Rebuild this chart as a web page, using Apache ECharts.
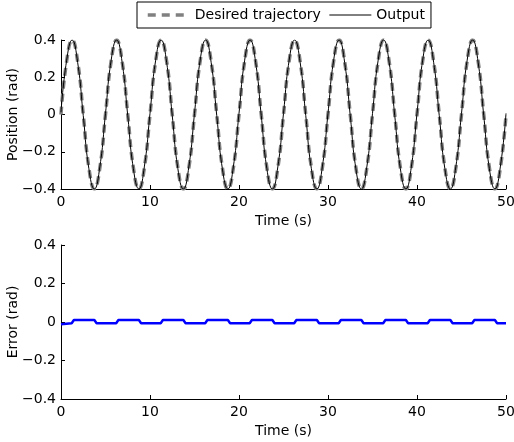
<!DOCTYPE html>
<html><head><meta charset="utf-8">
<script src="https://cdn.jsdelivr.net/npm/echarts@6/dist/echarts.min.js"></script>
<style>html,body{margin:0;padding:0;background:#fff}#c{width:514px;height:442px}</style>
</head><body><div id="c"></div>
<script>
// sample spacing of the position traces (s)
const posStep = 0.625;
// Desired trajectory (rad), 8 samples per 5 s period
const desired = [
  0, 0.283, 0.4, 0.283, 0, -0.283, -0.4, -0.283,
  0, 0.283, 0.4, 0.283, 0, -0.283, -0.4, -0.283,
  0, 0.283, 0.4, 0.283, 0, -0.283, -0.4, -0.283,
  0, 0.283, 0.4, 0.283, 0, -0.283, -0.4, -0.283,
  0, 0.283, 0.4, 0.283, 0, -0.283, -0.4, -0.283,
  0, 0.283, 0.4, 0.283, 0, -0.283, -0.4, -0.283,
  0, 0.283, 0.4, 0.283, 0, -0.283, -0.4, -0.283,
  0, 0.283, 0.4, 0.283, 0, -0.283, -0.4, -0.283,
  0, 0.283, 0.4, 0.283, 0, -0.283, -0.4, -0.283,
  0, 0.283, 0.4, 0.283, 0, -0.283, -0.4, -0.283,
  0
];
// Output (rad)
const output = [
  0.012, 0.288, 0.4, 0.278, -0.006, -0.289, -0.4, -0.277,
  0.006, 0.288, 0.4, 0.278, -0.006, -0.289, -0.4, -0.277,
  0.006, 0.288, 0.4, 0.278, -0.006, -0.289, -0.4, -0.277,
  0.006, 0.288, 0.4, 0.278, -0.006, -0.289, -0.4, -0.277,
  0.006, 0.288, 0.4, 0.278, -0.006, -0.289, -0.4, -0.277,
  0.006, 0.288, 0.4, 0.278, -0.006, -0.289, -0.4, -0.277,
  0.006, 0.288, 0.4, 0.278, -0.006, -0.289, -0.4, -0.277,
  0.006, 0.288, 0.4, 0.278, -0.006, -0.289, -0.4, -0.277,
  0.006, 0.288, 0.4, 0.278, -0.006, -0.289, -0.4, -0.277,
  0.006, 0.288, 0.4, 0.278, -0.006, -0.289, -0.4, -0.277,
  0.006
];
// Error trace: breakpoints (s) and values (rad)
const errTime = [
  0, 0.05, 1.2, 1.45, 3.75, 4.0,
  6.2, 6.45, 8.75, 9.0,
  11.2, 11.45, 13.75, 14.0,
  16.2, 16.45, 18.75, 19.0,
  21.2, 21.45, 23.75, 24.0,
  26.2, 26.45, 28.75, 29.0,
  31.2, 31.45, 33.75, 34.0,
  36.2, 36.45, 38.75, 39.0,
  41.2, 41.45, 43.75, 44.0,
  46.2, 46.45, 48.75, 49.0, 50
];
const errValue = [
  -0.012, -0.006, -0.006, 0.01, 0.01, -0.006,
  -0.006, 0.01, 0.01, -0.006,
  -0.006, 0.01, 0.01, -0.006,
  -0.006, 0.01, 0.01, -0.006,
  -0.006, 0.01, 0.01, -0.006,
  -0.006, 0.01, 0.01, -0.006,
  -0.006, 0.01, 0.01, -0.006,
  -0.006, 0.01, 0.01, -0.006,
  -0.006, 0.01, 0.01, -0.006,
  -0.006, 0.01, 0.01, -0.006, -0.006
];
const xTicks = [0, 10, 20, 30, 40, 50];
const yTicks = [-0.4, -0.2, 0, 0.2, 0.4];

const FONT = "'DejaVu Sans', 'Liberation Sans', Arial, sans-serif";
const desiredData = desired.map((v, i) => [i * posStep, v]);
const outputData = output.map((v, i) => [i * posStep, v]);
const errData = errTime.map((t, i) => [t, errValue[i]]);
const fmtY = v => (Math.abs(v) < 1e-9 ? '0' : String(+v.toFixed(1)).replace('-', '\u2212'));

function xAxis(idx) {
  return {
    type: 'value', gridIndex: idx, min: xTicks[0], max: xTicks[xTicks.length - 1], interval: 10,
    name: 'Time (s)', nameLocation: 'middle', nameGap: 25, nameMoveOverlap: false,
    nameTextStyle: { color: '#000', fontSize: 14, fontFamily: FONT },
    axisLine: { show: true, onZero: false, lineStyle: { color: '#000', width: 1 } },
    axisTick: { show: true, inside: true, length: 4, lineStyle: { color: '#000' } },
    axisLabel: { color: '#000', fontSize: 14, fontFamily: FONT, margin: 6 },
    splitLine: { show: false }
  };
}
function yAxis(idx, name) {
  return {
    type: 'value', gridIndex: idx, min: yTicks[0], max: yTicks[yTicks.length - 1], interval: 0.2,
    name: name, nameLocation: 'middle', nameGap: 41, nameMoveOverlap: false,
    nameTextStyle: { color: '#000', fontSize: 14, fontFamily: FONT },
    axisLine: { show: true, lineStyle: { color: '#000', width: 1 } },
    axisTick: { show: true, inside: true, length: 4, lineStyle: { color: '#000' } },
    axisLabel: { color: '#000', fontSize: 14, fontFamily: FONT, margin: 5, formatter: fmtY },
    splitLine: { show: false }
  };
}

const chart = echarts.init(document.getElementById('c'), null, { renderer: 'canvas' });
chart.setOption({
  animation: false,
  backgroundColor: '#fff',
  legend: {
    left: 137, top: 2, orient: 'horizontal',
    padding: [6, 6, 6, 9], itemGap: 8, itemWidth: 42, itemHeight: 14,
    borderColor: '#000', borderWidth: 1, borderRadius: 0,
    itemStyle: { opacity: 0 },
    textStyle: { color: '#000', fontSize: 14, fontFamily: FONT },
    data: [
      { name: 'Desired trajectory', lineStyle: { width: 3.5, color: '#808080', type: [8, 6] } },
      { name: 'Output', lineStyle: { width: 1, color: '#000' } }
    ]
  },
  grid: [
    { left: 61, right: 8, top: 40, height: 149, outerBoundsMode: 'none', containLabel: false },
    { left: 61, right: 8, top: 245, height: 154, outerBoundsMode: 'none', containLabel: false }
  ],
  xAxis: [xAxis(0), xAxis(1)],
  yAxis: [yAxis(0, 'Position (rad)'), yAxis(1, 'Error (rad)')],
  series: [
    {
      name: 'Desired trajectory', type: 'line', xAxisIndex: 0, yAxisIndex: 0,
      data: desiredData, smooth: 0.5, symbol: 'none',
      lineStyle: { color: '#808080', width: 3.5, type: [8, 5] },
      itemStyle: { color: '#808080' }, z: 2
    },
    {
      name: 'Output', type: 'line', xAxisIndex: 0, yAxisIndex: 0,
      data: outputData, smooth: 0.5, symbol: 'none',
      lineStyle: { color: '#000', width: 1 },
      itemStyle: { color: '#000' }, z: 3
    },
    {
      name: 'Error', type: 'line', xAxisIndex: 1, yAxisIndex: 1,
      data: errData, symbol: 'none',
      lineStyle: { color: '#0000ff', width: 2.5 },
      itemStyle: { color: '#0000ff' }, z: 3
    }
  ]
});
</script></body></html>
